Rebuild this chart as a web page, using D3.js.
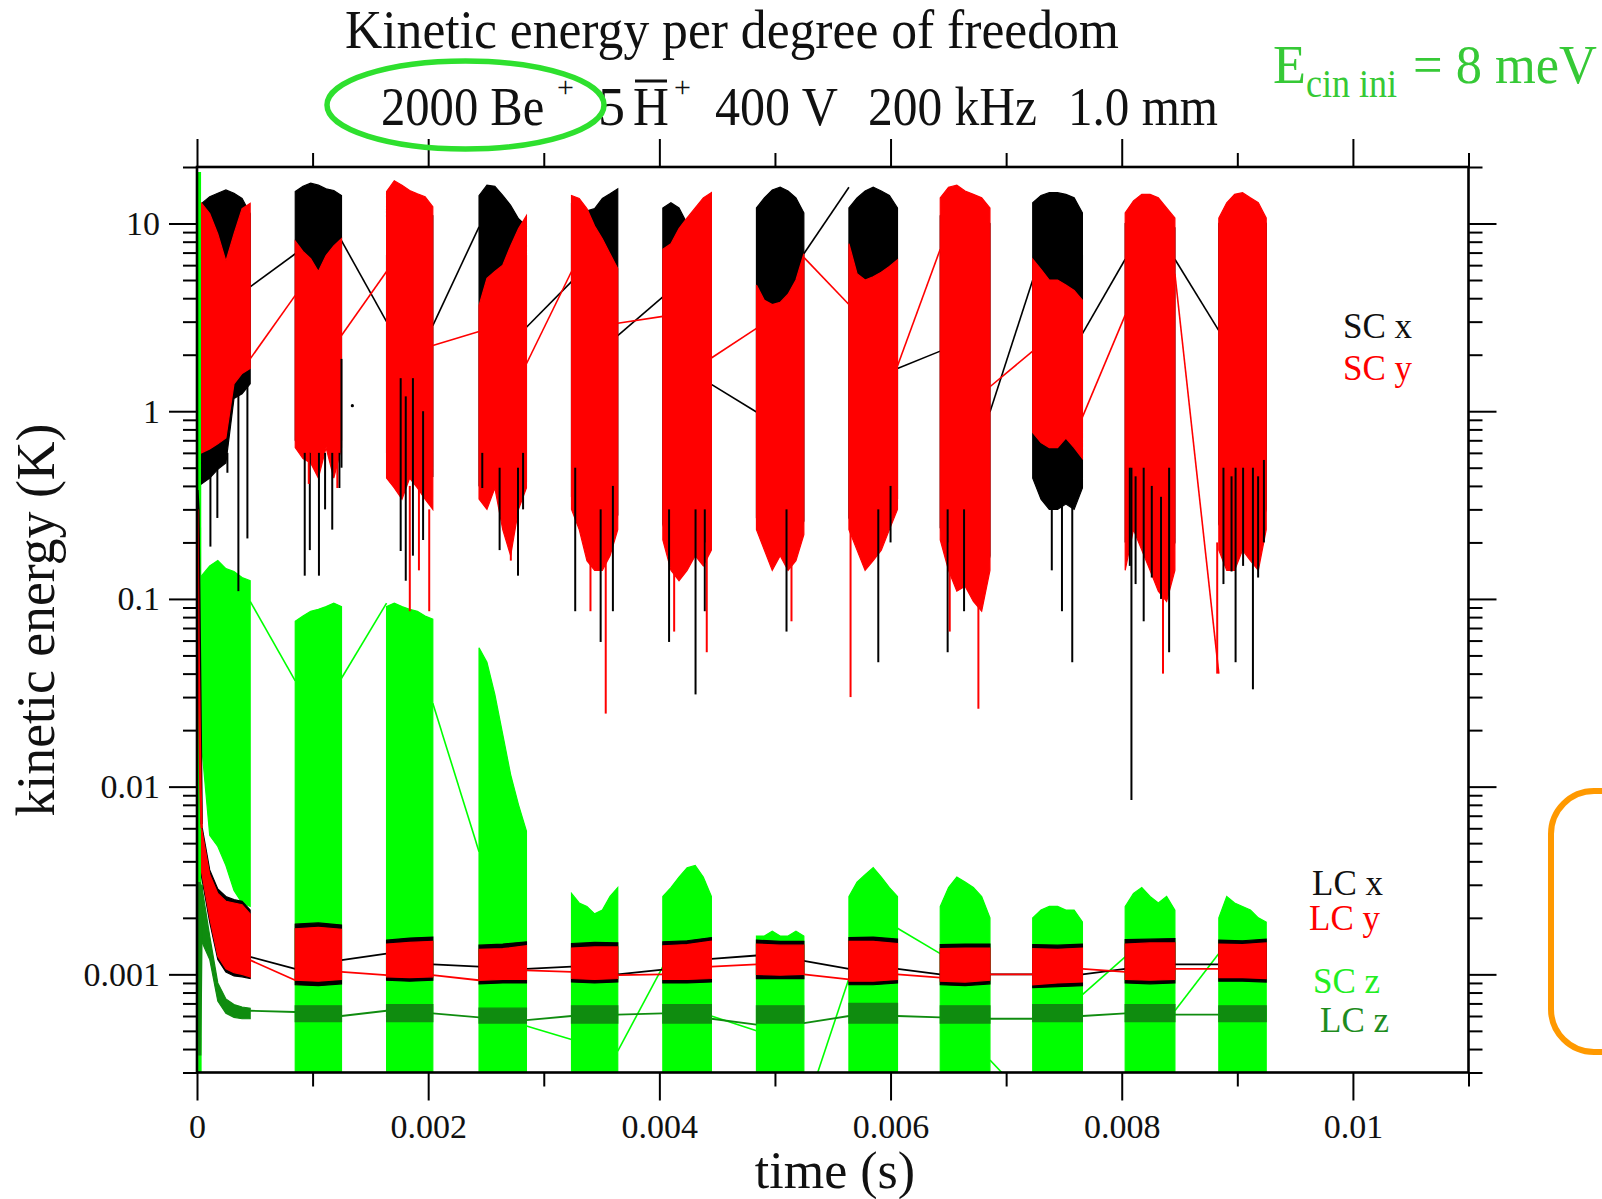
<!DOCTYPE html>
<html>
<head>
<meta charset="utf-8">
<script src="https://cdn.jsdelivr.net/npm/d3@7"></script>
<style>
  body { margin: 0; background: #fff; }
  svg { display: block; }
  text { font-family: "Liberation Serif", "Times New Roman", serif; }
</style>
</head>
<body>
<svg id="chart" width="1602" height="1199"></svg>
<script>
// ---- sampling windows of the simulation (s) ----
const winStart = [0.00004, 0.00085, 0.00164, 0.00244, 0.00324, 0.00403, 0.00484, 0.00564, 0.00643, 0.00723, 0.00803, 0.00884];
const winEnd   = [0.00046, 0.00125, 0.00204, 0.00285, 0.00364, 0.00445, 0.00525, 0.00606, 0.00686, 0.00766, 0.00846, 0.00925];

// ---- axis ticks ----
const xTickMajor = [0, 0.002, 0.004, 0.006, 0.008, 0.01];
const xTickLabels = ["0", "0.002", "0.004", "0.006", "0.008", "0.01"];
const xTickMinor = [0.001, 0.003, 0.005, 0.007, 0.009, 0.011];
const yTickMajor = [0.001, 0.01, 0.1, 1, 10];
const yTickLabels = ["0.001", "0.01", "0.1", "1", "10"];

// ---- SC x (black): envelope of the fast oscillation inside each window (K) ----
const scxHi = [
  [12.8, 13.9, 14.5, 15.1, 14.5, 13.6, 11.3],
  [14.8, 15.8, 16.4, 16.0, 15.3, 15.0, 14.1],
  [12, 13, 13, 12.5, 12, 11.5, 11],
  [14.1, 16.0, 15.8, 14.1, 12.5, 10.6, 9.7],
  [12.8, 12.8, 11.7, 12.0, 13.6, 14.4, 15.3],
  [12.1, 12.9, 12.1, 10.0, 8.85, 7.8, 6.9],
  [12.1, 13.7, 15.1, 15.6, 14.9, 13.7, 11.4],
  [12.1, 13.7, 14.9, 15.6, 14.9, 14.1, 12.1],
  [11, 12, 12, 12, 11.5, 11, 10],
  [12.9, 14.1, 14.6, 14.6, 14.3, 13.7, 11.4],
  [10, 11, 12, 12, 11.5, 10.5, 9.5],
  [10, 11.5, 12.5, 12.5, 12, 11.5, 10]
];
const scxLo = [
  [0.41, 0.44, 0.49, 0.53, 1.17, 1.24, 1.40],
  [0.70, 0.60, 0.60, 0.50, 0.70, 0.50, 0.70],
  [0.60, 0.50, 0.50, 0.50, 0.50, 0.45, 0.45],
  [0.40, 0.35, 0.42, 0.30, 0.25, 0.35, 0.42],
  [0.35, 0.28, 0.20, 0.17, 0.17, 0.20, 0.28],
  [0.25, 0.17, 0.15, 0.17, 0.20, 0.18, 0.21],
  [0.27, 0.21, 0.17, 0.20, 0.17, 0.19, 0.26],
  [0.27, 0.21, 0.17, 0.19, 0.21, 0.27, 0.34],
  [0.24, 0.17, 0.13, 0.14, 0.12, 0.10, 0.17],
  [0.44, 0.34, 0.30, 0.30, 0.32, 0.30, 0.39],
  [0.20, 0.30, 0.25, 0.20, 0.16, 0.14, 0.20],
  [0.25, 0.20, 0.20, 0.25, 0.22, 0.20, 0.30]
];
// ---- SC y (red) ----
const scyHi = [
  [12.8, 11.3, 8.8, 6.3, 8.8, 12.0, 12.8],
  [8.05, 7.1, 6.5, 5.55, 6.75, 7.6, 8.3],
  [14.8, 16.9, 16.0, 15.0, 14.4, 13.9, 12.3],
  [3.66, 5.1, 5.55, 6.0, 7.6, 9.4, 11.0],
  [14.1, 13.6, 12.0, 9.7, 8.3, 6.9, 5.75],
  [7.3, 7.8, 9.4, 10.7, 12.1, 13.7, 14.6],
  [4.7, 3.9, 3.7, 3.8, 4.2, 5.0, 6.9],
  [7.8, 5.4, 5.0, 5.2, 5.5, 5.9, 6.4],
  [13.7, 15.6, 16.0, 14.9, 14.3, 13.7, 12.1],
  [6.45, 5.7, 5.0, 5.0, 4.7, 4.4, 3.9],
  [11.4, 13.2, 14.3, 14.3, 13.7, 12.1, 10.7],
  [10.7, 12.9, 14.3, 14.6, 13.7, 12.9, 10.7]
];
const scyLo = [
  [0.60, 0.63, 0.67, 0.72, 1.40, 1.59, 1.69],
  [0.64, 0.56, 0.53, 0.44, 0.64, 0.44, 0.64],
  [0.44, 0.39, 0.34, 0.44, 0.39, 0.34, 0.30],
  [0.34, 0.30, 0.39, 0.234, 0.17, 0.30, 0.39],
  [0.30, 0.234, 0.16, 0.142, 0.142, 0.17, 0.234],
  [0.206, 0.142, 0.125, 0.142, 0.17, 0.15, 0.182],
  [0.234, 0.182, 0.142, 0.17, 0.142, 0.16, 0.22],
  [0.234, 0.182, 0.142, 0.16, 0.182, 0.234, 0.30],
  [0.206, 0.142, 0.11, 0.117, 0.097, 0.086, 0.142],
  [0.77, 0.68, 0.64, 0.64, 0.72, 0.64, 0.56],
  [0.142, 0.234, 0.182, 0.142, 0.11, 0.097, 0.142],
  [0.182, 0.142, 0.142, 0.182, 0.16, 0.142, 0.234]
];
// isolated excursions: [t, from, to]
const scxSpikes = [
  [0.000116, 0.5, 0.19], [0.000176, 0.5, 0.27], [0.00022, 0.6, 0.52], [0.000263, 0.6, 0.47], [0.000358, 1.3, 0.11], [0.000436, 1.4, 0.21],
  [0.000932, 0.6, 0.133], [0.000976, 0.6, 0.182], [0.001055, 0.6, 0.133], [0.001108, 0.6, 0.30], [0.00117, 0.6, 0.234], [0.001232, 0.6, 0.39], [0.00125, 1.9, 0.5],
  [0.001762, 1.5, 0.18], [0.001806, 1.2, 0.125], [0.001868, 1.5, 0.17], [0.001956, 1.0, 0.206],
  [0.002468, 0.6, 0.39], [0.002618, 0.5, 0.182], [0.002777, 0.5, 0.133], [0.002821, 0.6, 0.30],
  [0.003272, 0.5, 0.086], [0.003492, 0.3, 0.059], [0.003598, 0.4, 0.086],
  [0.004084, 0.3, 0.059], [0.004313, 0.3, 0.031], [0.004393, 0.3, 0.086],
  [0.0051, 0.3, 0.067],
  [0.005894, 0.3, 0.046], [0.006, 0.4, 0.2],
  [0.006494, 0.3, 0.052], [0.006636, 0.3, 0.086],
  [0.007395, 0.5, 0.142], [0.007483, 0.5, 0.086], [0.007572, 0.5, 0.046],
  [0.00807, 0.5, 0.15], [0.008084, 0.5, 0.0085], [0.00812, 0.45, 0.12], [0.00819, 0.5, 0.076], [0.00826, 0.4, 0.13], [0.00834, 0.35, 0.1], [0.00841, 0.5, 0.052],
  [0.00888, 0.5, 0.12], [0.00895, 0.45, 0.14], [0.008985, 0.5, 0.046], [0.00905, 0.5, 0.15], [0.009135, 0.5, 0.033], [0.00918, 0.45, 0.13], [0.00923, 0.55, 0.2]
];
const scySpikes = [
  [0.000967, 0.6, 0.41], [0.001214, 0.6, 0.39],
  [0.001841, 0.4, 0.086], [0.00192, 0.4, 0.142], [0.002009, 0.3, 0.086],
  [0.002715, 0.3, 0.16],
  [0.003404, 0.2, 0.086], [0.003536, 0.2, 0.0245],
  [0.004128, 0.2, 0.067], [0.00441, 0.2, 0.052],
  [0.005143, 0.2, 0.076],
  [0.005654, 0.25, 0.03],
  [0.006512, 0.2, 0.067], [0.00676, 0.12, 0.026],
  [0.008357, 0.12, 0.04],
  [0.008826, 0.2, 0.04]
];
const scxDots = [[0.001344, 1.07]];
// values at the window edges, joined by straight lines across the gaps
const scxStart = [12, 6.9, 3.0, 9.6, 4.9, 4.07, 0.99, 15.6, 2.09, 5.0, 6.45, 2.69];
const scxEnd   = [4.6, 8.1, 2.86, 2.8, 2.53, 1.39, 6.9, 1.69, 0.99, 2.59, 6.45, 0.3];
const scyStart = [12, 4.14, 5.55, 2.66, 5.55, 3.2, 2.76, 3.7, 7.3, 2.09, 3.25, 0.04];
const scyEnd   = [1.9, 2.53, 2.24, 1.79, 2.94, 1.92, 6.6, 1.74, 1.35, 0.93, 5.4, 0.3];

// ---- SC z (bright green) ----
const sczHi = [
  [0.133, 0.15, 0.16, 0.145, 0.14, 0.13, 0.125],
  [0.076, 0.081, 0.086, 0.088, 0.091, 0.095, 0.091],
  [0.091, 0.095, 0.091, 0.088, 0.086, 0.081, 0.078],
  [0.055, 0.046, 0.031, 0.019, 0.0116, 0.008, 0.0058],
  [0.0027, 0.0024, 0.0023, 0.0021, 0.0022, 0.0026, 0.0029],
  [0.0026, 0.0029, 0.0033, 0.0037, 0.0038, 0.0033, 0.0026],
  [0.0016, 0.0016, 0.0017, 0.0016, 0.0016, 0.0017, 0.0016],
  [0.0026, 0.0031, 0.0034, 0.0037, 0.0033, 0.0029, 0.0026],
  [0.0023, 0.0029, 0.0033, 0.0031, 0.0029, 0.0026, 0.0020],
  [0.0020, 0.0022, 0.0023, 0.0023, 0.0022, 0.0022, 0.0019],
  [0.0023, 0.0027, 0.0029, 0.0026, 0.0024, 0.0026, 0.0022],
  [0.0020, 0.0026, 0.0024, 0.0023, 0.0022, 0.0020, 0.0019]
];
const sczLo = [
  [0.0166, 0.0055, 0.0048, 0.0038, 0.0028, 0.0024, 0.0023],
  [0.0002, 0.0002], [0.0002, 0.0002], [0.0002, 0.0002], [0.0002, 0.0002], [0.0002, 0.0002],
  [0.0002, 0.0002], [0.0002, 0.0002], [0.0002, 0.0002], [0.0002, 0.0002], [0.0002, 0.0002], [0.0002, 0.0002]
];
const sczStart = [0.133, 0.0366, 0.095, 0.0045, 0.00045, 0.0011, 0.0005, 0.00095, 0.00129, 0.0002, 0.00124, 0.00129];
const sczEnd   = [0.097, 0.0378, 0.0278, 0.00053, 0.00039, 0.0006, 0.00018, 0.00176, 0.00035, 0.00078, 0.00064, 0.0019];
const sczLead  = [[0.00002, 18.8], [0.000025, 0.0002]];

// ---- LC x (black), LC y (red), LC z (dark green) ----
const lcxHi = [
  [0.0063, 0.0036, 0.00285, 0.0026, 0.0025, 0.00245, 0.0022],
  [0.00185, 0.00188, 0.00183], [0.00152, 0.00156, 0.00158], [0.00143, 0.00145, 0.00149],
  [0.00146, 0.00148, 0.00147], [0.00149, 0.00151, 0.00157], [0.00152, 0.0015, 0.0015],
  [0.00157, 0.00158, 0.00154], [0.00144, 0.00145, 0.00145], [0.00144, 0.00143, 0.00145],
  [0.00153, 0.00154, 0.00155], [0.00152, 0.00151, 0.00154]
];
const lcxLo = [
  [0.0033, 0.0019, 0.0012, 0.00103, 0.00098, 0.00097, 0.00095],
  [0.00088, 0.00087, 0.00089], [0.00093, 0.00092, 0.00093], [0.00089, 0.0009, 0.0009],
  [0.00091, 0.0009, 0.00091], [0.0009, 0.0009, 0.00091], [0.00095, 0.00095, 0.00095],
  [0.00088, 0.00088, 0.0009], [0.00088, 0.00087, 0.00089], [0.00085, 0.00086, 0.00087],
  [0.0009, 0.00089, 0.0009], [0.00092, 0.00092, 0.00091]
];
const lcyHi = [
  [0.006, 0.0034, 0.0027, 0.00245, 0.0024, 0.00235, 0.0021],
  [0.00175, 0.00178, 0.00174], [0.00145, 0.00148, 0.0015], [0.00136, 0.00137, 0.00142],
  [0.00138, 0.0014, 0.0014], [0.00142, 0.00144, 0.0015], [0.00145, 0.00143, 0.00143],
  [0.0015, 0.0015, 0.00146], [0.00137, 0.00138, 0.00138], [0.00137, 0.00136, 0.00138],
  [0.00145, 0.00147, 0.00147], [0.00145, 0.00144, 0.00147]
];
const lcyLo = [
  [0.0035, 0.002, 0.00125, 0.00107, 0.00102, 0.001, 0.00097],
  [0.00093, 0.00092, 0.00094], [0.00097, 0.00096, 0.00097], [0.00093, 0.00094, 0.00094],
  [0.00095, 0.00094, 0.00095], [0.00094, 0.00094, 0.00095], [0.001, 0.00099, 0.001],
  [0.00092, 0.00092, 0.00094], [0.00092, 0.00091, 0.00093], [0.00088, 0.0009, 0.00091],
  [0.00094, 0.00093, 0.00094], [0.00096, 0.00096, 0.00095]
];
const lczHi = [
  [0.003, 0.0016, 0.0009, 0.00074, 0.00069, 0.00067, 0.00066],
  [0.00068, 0.00068], [0.00069, 0.00069], [0.00066, 0.00066], [0.00068, 0.00068], [0.00069, 0.00069],
  [0.00068, 0.00068], [0.0007, 0.0007], [0.00068, 0.00068], [0.00069, 0.00069], [0.00069, 0.00069], [0.00068, 0.00068]
];
const lczLo = [
  [0.0015, 0.0012, 0.00072, 0.00062, 0.00059, 0.00058, 0.00058],
  [0.00056, 0.00056], [0.00056, 0.00056], [0.00055, 0.00055], [0.00055, 0.00055], [0.00055, 0.00055],
  [0.00055, 0.00055], [0.00055, 0.00055], [0.00055, 0.00055], [0.00056, 0.00056], [0.00056, 0.00056], [0.00056, 0.00056]
];
const lcxStart = [0.0063, 0.00107, 0.00129, 0.0011, 0.0011, 0.00106, 0.00126, 0.00107, 0.001, 0.001, 0.00107, 0.00113];
const lcxEnd   = [0.00124, 0.00119, 0.00113, 0.00107, 0.001, 0.00121, 0.00118, 0.00107, 0.001, 0.001, 0.00113, 0.0011];
const lcyStart = [0.006, 0.00093, 0.00099, 0.00093, 0.00103, 0.001, 0.00113, 0.00094, 0.00096, 0.001, 0.00103, 0.00107];
const lcyEnd   = [0.00119, 0.00103, 0.00099, 0.00105, 0.00099, 0.0011, 0.001, 0.001, 0.001, 0.00107, 0.00107, 0.00105];
const lczStart = [0.003, 0.00063, 0.00064, 0.00059, 0.0006, 0.00062, 0.00054, 0.0006, 0.00059, 0.00058, 0.00062, 0.00061];
const lczEnd   = [0.00064, 0.0006, 0.00062, 0.00057, 0.00061, 0.00058, 0.00055, 0.0006, 0.00058, 0.0006, 0.00061, 0.0006];
const lcxLead = [[0.000003, 0.38], [0.000012, 0.30], [0.00004, 0.0063]];
const lcyLead = [[0.000003, 0.3], [0.000012, 0.06], [0.00003, 0.0098], [0.00004, 0.006]];
const lczLead = [[0.00002, 0.0031], [0.000025, 0.00037], [0.00004, 0.003]];

// ---- colours ----
const BLACK = "#000000", RED = "#ff0000", GREEN = "#00ff00", DKGREEN = "#0f8c0f";

// ---- scales ----
const svg = d3.select("#chart");
const x = d3.scaleLinear().domain([0, 0.011]).range([197, 1468.5]);
const y = d3.scaleLog().domain([3e-4, 20]).range([1072.5, 167]);

svg.append("defs").append("clipPath").attr("id", "plotclip")
  .append("rect").attr("x", 197).attr("y", 167).attr("width", 1468.5 - 197).attr("height", 1072.5 - 167);

const plot = svg.append("g").attr("clip-path", "url(#plotclip)");
const line = d3.line().x(d => x(d[0])).y(d => y(d[1]));

function bandPoints(w, hi, lo) {
  const t0 = winStart[w], t1 = winEnd[w];
  const up = hi.map((v, i) => [t0 + (t1 - t0) * i / (hi.length - 1), v]);
  const dn = lo.map((v, i) => [t0 + (t1 - t0) * i / (lo.length - 1), v]).reverse();
  return up.concat(dn);
}
function drawBands(hiArr, loArr, color) {
  plot.append("g").selectAll("path").data(d3.range(winStart.length)).join("path")
    .attr("d", w => line(bandPoints(w, hiArr[w], loArr[w])) + "Z")
    .attr("fill", color).attr("stroke", color).attr("stroke-width", 1.2)
    .attr("stroke-linejoin", "miter");
}
function drawLinks(startArr, endArr, color, width) {
  const segs = d3.range(winStart.length - 1).map(k => [[winEnd[k], endArr[k]], [winStart[k + 1], startArr[k + 1]]]);
  plot.append("g").selectAll("path").data(segs).join("path")
    .attr("d", line).attr("fill", "none").attr("stroke", color).attr("stroke-width", width);
}
function drawSpikes(spikes, color, width) {
  plot.append("g").selectAll("line").data(spikes).join("line")
    .attr("x1", d => x(d[0])).attr("x2", d => x(d[0]))
    .attr("y1", d => y(d[1])).attr("y2", d => y(d[2]))
    .attr("stroke", color).attr("stroke-width", width);
}
function drawLead(pts, color, width) {
  plot.append("path").attr("d", line(pts)).attr("fill", "none")
    .attr("stroke", color).attr("stroke-width", width);
}

// SC z underneath everything
drawLinks(sczStart, sczEnd, GREEN, 1.6);
drawBands(sczHi, sczLo, GREEN);
drawLead(sczLead, GREEN, 3.5);
// SC x / SC y bursts
drawLinks(scxStart, scxEnd, BLACK, 1.6);
drawBands(scxHi, scxLo, BLACK);
drawLinks(scyStart, scyEnd, RED, 1.6);
drawBands(scyHi, scyLo, RED);
drawSpikes(scxSpikes, BLACK, 2);
drawSpikes(scySpikes, RED, 2);
plot.append("g").selectAll("circle").data(scxDots).join("circle")
  .attr("cx", d => x(d[0])).attr("cy", d => y(d[1])).attr("r", 1.6).attr("fill", BLACK);
// LC x / LC y / LC z
drawLead(lcxLead, BLACK, 2.5);
drawLinks(lcxStart, lcxEnd, BLACK, 1.8);
drawBands(lcxHi, lcxLo, BLACK);
drawLead(lcyLead, RED, 2.5);
drawLinks(lcyStart, lcyEnd, RED, 1.8);
drawBands(lcyHi, lcyLo, RED);
drawLead(lczLead, DKGREEN, 3);
drawLinks(lczStart, lczEnd, DKGREEN, 1.8);
drawBands(lczHi, lczLo, DKGREEN);

// ---- axes ----
const minorY = y.ticks().filter(v => !yTickMajor.some(m => Math.abs(m - v) / m < 1e-6));
function styleAxis(g) {
  g.select(".domain").remove();
  g.selectAll(".tick line").attr("stroke", "#000").attr("stroke-width", 2);
  g.selectAll(".tick text").attr("font-family", "Liberation Serif, serif").attr("font-size", 34).attr("fill", "#111");
}
svg.append("g").attr("transform", "translate(197,0)")
  .call(d3.axisLeft(y).tickValues(yTickMajor).tickSize(28).tickPadding(9)
    .tickFormat((d, i) => yTickLabels[i])).call(styleAxis);
svg.append("g").attr("transform", "translate(197,0)")
  .call(d3.axisLeft(y).tickValues(minorY).tickSize(14).tickFormat("")).call(styleAxis);
svg.append("g").attr("transform", "translate(1468.5,0)")
  .call(d3.axisRight(y).tickValues(yTickMajor).tickSize(28).tickFormat("")).call(styleAxis);
svg.append("g").attr("transform", "translate(1468.5,0)")
  .call(d3.axisRight(y).tickValues(minorY).tickSize(14).tickFormat("")).call(styleAxis);
svg.append("g").attr("transform", "translate(0,1072.5)")
  .call(d3.axisBottom(x).tickValues(xTickMajor).tickSize(28).tickPadding(13)
    .tickFormat((d, i) => xTickLabels[i])).call(styleAxis);
svg.append("g").attr("transform", "translate(0,1072.5)")
  .call(d3.axisBottom(x).tickValues(xTickMinor).tickSize(14).tickFormat("")).call(styleAxis);
svg.append("g").attr("transform", "translate(0,167)")
  .call(d3.axisTop(x).tickValues(xTickMajor).tickSize(28).tickFormat("")).call(styleAxis);
svg.append("g").attr("transform", "translate(0,167)")
  .call(d3.axisTop(x).tickValues(xTickMinor).tickSize(14).tickFormat("")).call(styleAxis);

// frame
svg.append("rect").attr("x", 197).attr("y", 167).attr("width", 1468.5 - 197).attr("height", 1072.5 - 167)
  .attr("fill", "none").attr("stroke", "#000").attr("stroke-width", 2.6);

// ---- axis titles ----
svg.append("text").attr("x", 835).attr("y", 1188).attr("text-anchor", "middle")
  .attr("font-size", 52).attr("fill", "#111").text("time (s)");
svg.append("text").attr("transform", "translate(54,620) rotate(-90)").attr("text-anchor", "middle")
  .attr("font-size", 54).attr("textLength", 393).attr("lengthAdjust", "spacingAndGlyphs")
  .attr("fill", "#111").text("kinetic energy (K)");

// ---- series labels ----
const labels = [
  { t: "SC x", x: 1343, y: 338, c: "#111" },
  { t: "SC y", x: 1343, y: 380, c: RED },
  { t: "LC x", x: 1312, y: 895, c: "#111" },
  { t: "LC y", x: 1309, y: 930, c: RED },
  { t: "SC z", x: 1313, y: 993, c: "#22ee22" },
  { t: "LC z", x: 1320, y: 1032, c: "#1e8c1e" }
];
svg.append("g").selectAll("text").data(labels).join("text")
  .attr("x", d => d.x).attr("y", d => d.y).attr("font-size", 35).attr("fill", d => d.c).text(d => d.t);

// ---- title block ----
svg.append("text").attr("x", 345).attr("y", 48).attr("font-size", 55)
  .attr("textLength", 774).attr("lengthAdjust", "spacingAndGlyphs").attr("fill", "#111")
  .text("Kinetic energy per degree of freedom");
const sub = svg.append("g").attr("fill", "#111");
// narrow the ion count horizontally so that its superscript sits clear of it
sub.append("text").attr("transform", "translate(381,125) scale(0.9,1)").attr("font-size", 54).text("2000 Be");
sub.append("text").attr("x", 557).attr("y", 97).attr("font-size", 30).text("+");
sub.append("text").attr("x", 598).attr("y", 125).attr("font-size", 54).text("5");
sub.append("text").attr("transform", "translate(633,125) scale(0.92,1)").attr("font-size", 54).text("H");
sub.append("text").attr("x", 674).attr("y", 97).attr("font-size", 30).text("+");
sub.append("line").attr("x1", 635).attr("x2", 667).attr("y1", 81).attr("y2", 81)
  .attr("stroke", "#111").attr("stroke-width", 3);
sub.append("text").attr("x", 715).attr("y", 125).attr("font-size", 54)
  .attr("textLength", 123).attr("lengthAdjust", "spacingAndGlyphs").text("400 V");
sub.append("text").attr("x", 868).attr("y", 125).attr("font-size", 54)
  .attr("textLength", 169).attr("lengthAdjust", "spacingAndGlyphs").text("200 kHz");
sub.append("text").attr("x", 1068).attr("y", 125).attr("font-size", 54)
  .attr("textLength", 150).attr("lengthAdjust", "spacingAndGlyphs").text("1.0 mm");

// highlight around the ion count
svg.append("ellipse").attr("cx", 465.5).attr("cy", 105).attr("rx", 138.5).attr("ry", 44)
  .attr("fill", "none").attr("stroke", "#2ee02e").attr("stroke-width", 5.5);

// initial energy note
const EG = "#36c936";
svg.append("text").attr("x", 1273).attr("y", 83).attr("font-size", 54).attr("fill", EG).text("E");
svg.append("text").attr("x", 1306).attr("y", 97).attr("font-size", 40).attr("fill", EG)
  .attr("textLength", 91).attr("lengthAdjust", "spacingAndGlyphs").text("cin ini");
svg.append("text").attr("x", 1413).attr("y", 83).attr("font-size", 54).attr("fill", EG)
  .attr("textLength", 184).attr("lengthAdjust", "spacingAndGlyphs").text("= 8 meV");

// orange bracket at the right edge
svg.append("rect").attr("x", 1551).attr("y", 791).attr("width", 140).attr("height", 261).attr("rx", 43)
  .attr("fill", "none").attr("stroke", "#ff9900").attr("stroke-width", 6);
</script>
</body>
</html>
